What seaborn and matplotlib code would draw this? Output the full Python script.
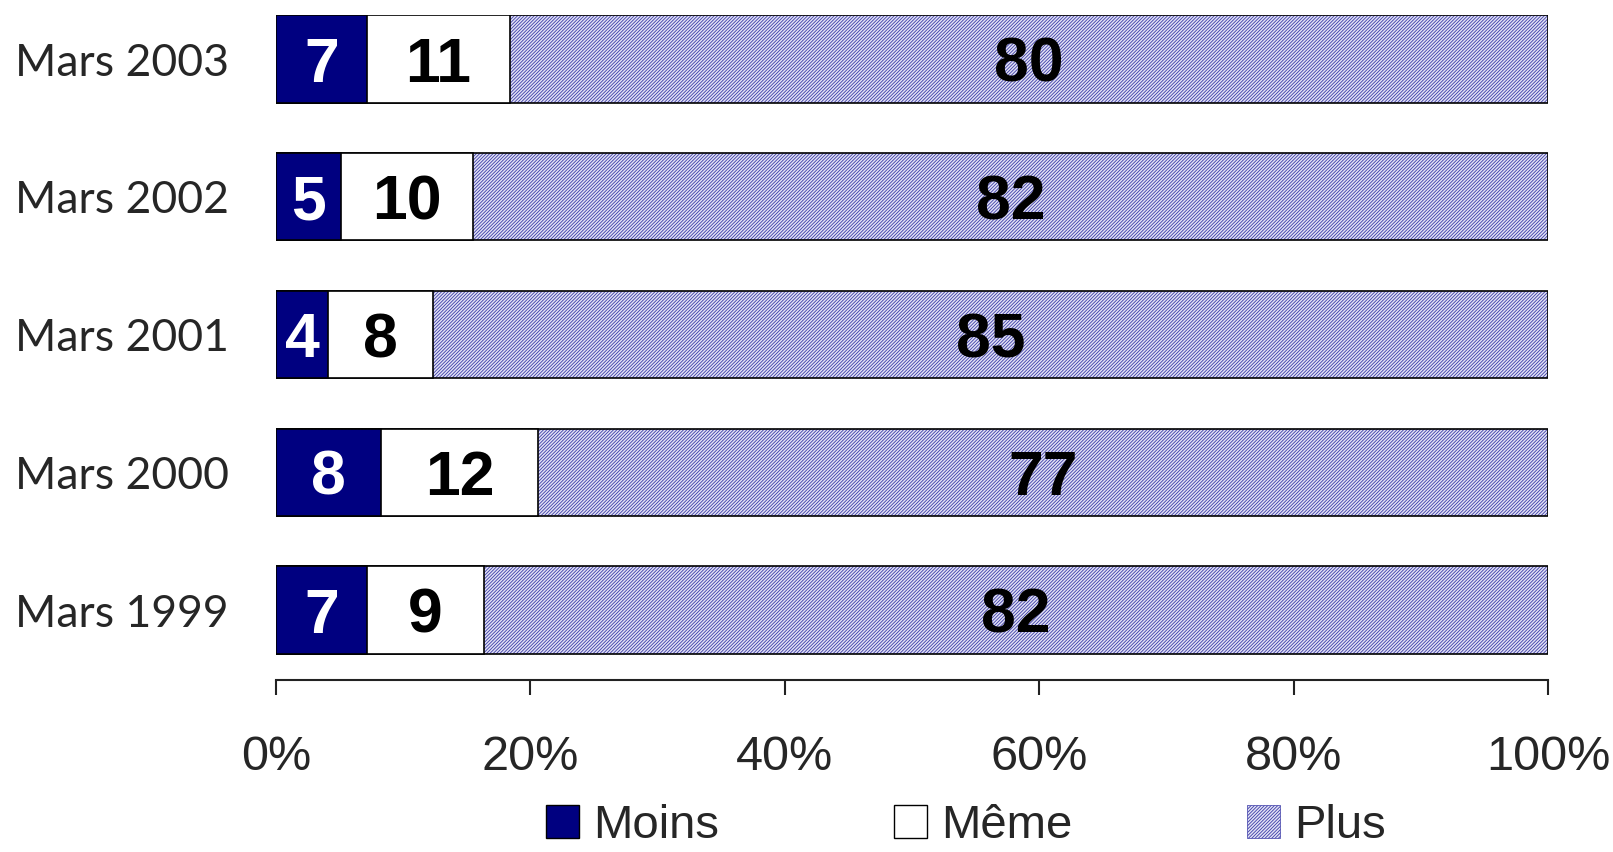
import matplotlib

matplotlib.use("Agg")

import matplotlib.pyplot as plt
import numpy as np
import pandas as pd
import seaborn as sns
from matplotlib.patches import Patch

periods = ["Mars 2003", "Mars 2002", "Mars 2001", "Mars 2000", "Mars 1999"]
moins = [7, 5, 4, 8, 7]
meme = [11, 10, 8, 12, 9]
plus = [80, 82, 85, 77, 82]

NAVY = "#000080"
PLUS_FACE = "#e2e2f4"
PLUS_HATCH = "#3c3ca8"

frame = pd.DataFrame({"periode": periods, "moins": moins, "meme": meme, "plus": plus})
total = frame[["moins", "meme", "plus"]].sum(axis=1)
frame["p_moins"] = frame["moins"] / total * 100
frame["p_meme"] = frame["meme"] / total * 100
frame["p_plus"] = frame["plus"] / total * 100
frame["cum_meme"] = frame["p_moins"] + frame["p_meme"]
frame["cum_plus"] = frame["cum_meme"] + frame["p_plus"]

sns.set_style("white")
plt.rcParams["hatch.linewidth"] = 0.6

fig = plt.figure(figsize=(16.13, 8.52), dpi=100)
ax = fig.add_axes([0.171, 0.202, 0.789, 0.780])

bar_w = 0.634
# hatched background layer (hatch colour follows edgecolor)
sns.barplot(data=frame, y="periode", x="cum_plus", order=periods, orient="h",
            color=PLUS_FACE, edgecolor=PLUS_HATCH, linewidth=0, hatch="//////////",
            width=bar_w, saturation=1, ax=ax)
sns.barplot(data=frame, y="periode", x="cum_plus", order=periods, orient="h",
            fill=False, edgecolor="black", linewidth=1.2,
            width=bar_w, ax=ax)
sns.barplot(data=frame, y="periode", x="cum_meme", order=periods, orient="h",
            color="white", edgecolor="black", linewidth=1.2,
            width=bar_w, saturation=1, ax=ax)
sns.barplot(data=frame, y="periode", x="p_moins", order=periods, orient="h",
            color=NAVY, edgecolor="black", linewidth=1.2,
            width=bar_w, saturation=1, ax=ax)

lab_kw = dict(ha="center", va="center", fontsize=45, fontweight="bold", family="Liberation Sans")
for i, row in frame.iterrows():
    y = i + 0.045
    ax.text(row["p_moins"] / 2, y, str(row["moins"]), color="white", **lab_kw)
    ax.text((row["p_moins"] + row["cum_meme"]) / 2, y, str(row["meme"]), color="black", **lab_kw)
    ax.text((row["cum_meme"] + row["cum_plus"]) / 2, y, str(row["plus"]), color="black", **lab_kw)

ax.set_xlim(0, 100)
ax.set_ylim(4.507, -0.317)
ax.set_xticks(np.arange(0, 101, 20))
ax.set_xticklabels([f"{t}%" for t in range(0, 101, 20)], family="Liberation Sans", fontsize=35)
ax.tick_params(axis="x", bottom=True, direction="out", length=11, width=1.5, color="#222222", pad=29)
ax.tick_params(axis="y", left=False, length=0, pad=34)
for lab in ax.get_yticklabels():
    lab.set_family("Lato")
    lab.set_fontsize(32)
ax.set_xlabel("")
ax.set_ylabel("")
for side in ["top", "left", "right"]:
    ax.spines[side].set_visible(False)
ax.spines["bottom"].set_color("#222222")
ax.spines["bottom"].set_linewidth(1.5)

handles = [
    Patch(facecolor=NAVY, edgecolor="black", linewidth=1, label="Moins"),
    Patch(facecolor="white", edgecolor="black", linewidth=1, label="Même"),
    Patch(facecolor=PLUS_FACE, edgecolor=PLUS_HATCH, hatch="//////////", linewidth=0.5, label="Plus"),
]
fig.legend(handles=handles, loc="center", bbox_to_anchor=(0.599, 0.03), ncol=3,
           frameon=False, handlelength=0.7, handleheight=0.7, handletextpad=0.3,
           columnspacing=3.7, borderaxespad=0, borderpad=0,
           prop={"family": "Liberation Sans", "size": 34})

fig.savefig("out.png", dpi=100)
plt.close(fig)
